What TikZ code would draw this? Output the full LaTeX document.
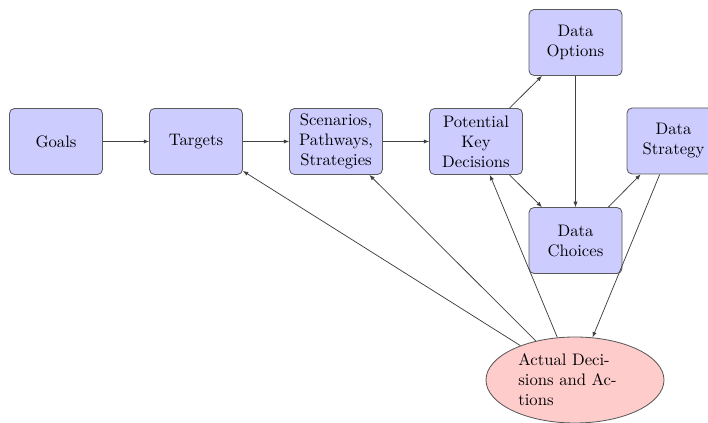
\documentclass[tikz,border=0pt]{standalone}
\usetikzlibrary{shapes.geometric,arrows.meta}
\begin{document}
\begin{tikzpicture}[x=0.6pt,y=-0.6pt,
  box/.style={draw=black!65,fill=blue!20,rounded corners=3pt,minimum width=55.8pt,minimum height=39.6pt,align=center,inner sep=2pt,line width=0.5pt},
  act/.style={draw=black!65,fill=red!20,ellipse,minimum width=106.8pt,minimum height=51.6pt,inner sep=0pt,align=left,text width=68pt,line width=0.5pt},
  conn/.style={draw=black!75,line width=0.45pt,-{Latex[length=3.2pt,width=2.6pt]}}]
\useasboundingbox (0,0) rectangle (708,423);
\node[box] (goals) at (56,141.5) {Goals};
\node[box] (targets) at (196,141.5) {Targets};
\node[box] (scen) at (336,141.5) {Scenarios,\\Pathways,\\Strategies};
\node[box] (pot) at (476,141.5) {Potential\\Key\\Decisions};
\node[box] (opt) at (575.5,42.5) {Data\\Options};
\node[box] (choice) at (575.5,240.5) {Data\\Choices};
\node[box] (strat) at (673.5,141) {Data\\Strategy};
\node[act] (act) at (575,380) {Actual Deci-\\sions and Ac-\\tions};
\draw[conn] (goals) -- (targets);
\draw[conn] (targets) -- (scen);
\draw[conn] (scen) -- (pot);
\draw[conn] (pot) -- (opt);
\draw[conn] (pot) -- (choice);
\draw[conn] (opt) -- (choice);
\draw[conn] (choice) -- (strat);
\draw[conn] (act) -- (targets);
\draw[conn] (act) -- (scen);
\draw[conn] (act) -- (pot);
\draw[conn] (strat) -- (act);
\end{tikzpicture}
\end{document}
